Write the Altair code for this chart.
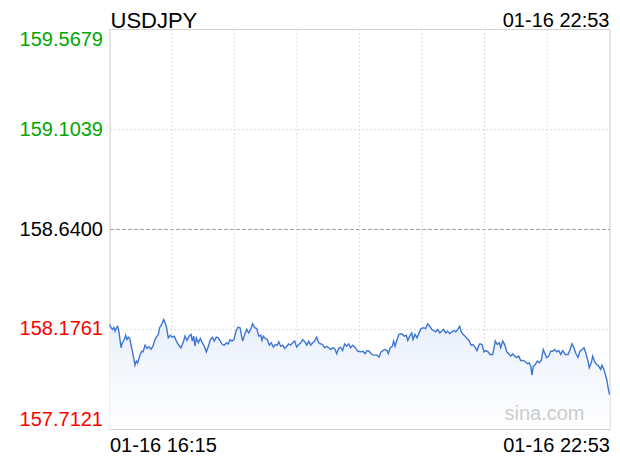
import altair as alt
import pandas as pd

# minutes after 16:15 (01-16) and USDJPY quotes
minutes = [0, 1.2, 2.3, 3.6, 4.4, 5.7, 6.5, 7.6, 9.2, 10.2, 11.8, 12.9, 13.9, 15.0, 16.1, 17.1, 18.7, 20.3, 21.4, 22.4,
           24.0, 25.6, 26.7, 28.3, 29.9, 31.4, 33.0, 34.6, 36.2, 37.8, 38.9, 39.9, 41.5, 43.1, 44.2, 45.2, 46.8, 48.4,
           50.0, 51.6, 53.2, 54.8, 56.9, 59.0, 60.1, 61.7, 63.3, 64.9, 65.9, 67.0, 68.1, 69.1, 70.7, 72.3, 73.9, 75.5,
           77.1, 78.7, 80.3, 81.9, 83.4, 85.0, 86.6, 88.2, 89.8, 91.4, 93.0, 94.6,
           95.9, 97.5, 99.1, 100.7, 102.3, 103.9, 104.9, 106.0, 107.6, 109.2, 110.8, 112.4, 114.0, 115.6, 117.2, 118.8,
           120.4, 121.4, 122.4, 124.0, 125.6, 127.2, 128.8, 130.4, 132.0, 133.6, 134.7, 136.3, 137.9, 139.5, 141.1,
           142.6, 144.2, 145.8, 147.4, 149.0, 150.6, 152.2, 153.8, 155.4, 157.0, 158.6, 160.2, 161.7, 163.3, 164.9,
           166.5, 168.1, 169.7, 171.3, 172.9, 174.5, 176.1, 177.7, 179.3, 180.9, 182.4, 184.0, 185.6, 187.2, 188.8,
           190.4, 192.0, 193.6,
           195.4, 197.6, 199.6, 201.8, 203.4, 205.0, 206.6, 208.7, 210.8, 212.9, 214.5, 216.1, 217.7, 219.3, 220.9,
           221.9, 223.5, 225.1, 226.2, 227.3, 228.9, 230.4, 232.6, 234.7, 236.3, 237.4, 239.0, 240.6, 241.6, 243.2,
           244.8, 246.4, 248.0, 250.1, 251.7, 253.3, 254.9, 256.5, 258.1, 259.7, 261.3, 262.9, 264.4, 266.0, 267.6,
           269.2, 270.8, 272.4, 274.0, 275.6, 277.2, 278.8, 279.8, 281.4, 283.0, 284.6, 286.2, 287.8, 289.3, 290.9,
           292.5, 294.1,
           294.9, 296.5, 298.1, 299.7, 301.3, 302.9, 305.0, 306.1, 307.1, 308.7, 310.3, 311.4, 313.0, 314.6, 316.2,
           317.8, 319.4, 321.0, 322.5, 324.1, 325.7, 327.3, 329.4, 331.0, 332.6, 334.2, 335.3, 336.3, 337.3, 338.9,
           340.5, 342.1, 343.7, 345.3, 346.9, 348.0, 349.6, 351.2, 352.8, 354.4, 356.0, 357.6, 359.2, 360.8, 362.8,
           365.0, 366.6, 368.2, 369.7, 371.3, 372.9, 374.5, 376.1, 377.7, 379.3, 380.9, 381.9, 383.5, 384.6, 386.2,
           387.8, 389.4, 391.0, 392.0, 393.6, 394.7, 395.8, 396.9, 398.0]

prices = [158.197, 158.182, 158.174, 158.183, 158.166, 158.182, 158.188, 158.160, 158.089, 158.112, 158.127, 158.147,
          158.127, 158.138, 158.132, 158.104, 158.058, 158.008, 158.027, 158.019, 158.050, 158.073, 158.070, 158.101,
          158.086, 158.094, 158.082, 158.096, 158.127, 158.143, 158.151, 158.182, 158.197, 158.220, 158.205, 158.189,
          158.135, 158.147, 158.138, 158.143, 158.120, 158.104, 158.089, 158.120, 158.143, 158.123, 158.143, 158.151,
          158.120, 158.143, 158.096, 158.135, 158.112, 158.132, 158.112, 158.096, 158.070, 158.096, 158.127, 158.138,
          158.120, 158.138, 158.135, 158.120, 158.104, 158.101, 158.112, 158.107,
          158.127, 158.120, 158.127, 158.166, 158.185, 158.182, 158.151, 158.120, 158.151, 158.174,
          158.158, 158.174, 158.200, 158.182, 158.178, 158.143, 158.147, 158.123, 158.143, 158.132,
          158.127, 158.101, 158.112, 158.092, 158.104, 158.101, 158.117, 158.096, 158.101, 158.086,
          158.096, 158.107, 158.101, 158.112, 158.120, 158.092, 158.104, 158.112, 158.127, 158.117,
          158.101, 158.120, 158.101, 158.112, 158.120, 158.138, 158.112, 158.107, 158.104, 158.089,
          158.096, 158.089, 158.081, 158.089, 158.084, 158.061, 158.086, 158.092, 158.076, 158.107,
          158.096, 158.107, 158.089, 158.101,
          158.092, 158.073, 158.070, 158.073, 158.061, 158.076, 158.073, 158.058, 158.055, 158.055,
          158.045, 158.070, 158.076, 158.081, 158.076, 158.061, 158.089, 158.096, 158.120, 158.096,
          158.127, 158.151, 158.154, 158.143, 158.147, 158.123, 158.143, 158.158, 158.127, 158.151,
          158.135, 158.158, 158.178, 158.182, 158.178, 158.200, 158.189, 158.174, 158.169, 158.163,
          158.174, 158.158, 158.166, 158.174, 158.158, 158.166, 158.154, 158.163, 158.169, 158.163,
          158.174, 158.189, 158.166, 158.151, 158.143, 158.132, 158.123, 158.101, 158.104, 158.092,
          158.076, 158.101,
          158.107, 158.104, 158.070, 158.076, 158.070, 158.058, 158.058, 158.089, 158.120, 158.104,
          158.112, 158.089, 158.120, 158.104, 158.070, 158.061, 158.050, 158.061, 158.050, 158.043,
          158.050, 158.030, 158.030, 158.024, 158.015, 158.019, 158.004, 157.962, 158.004, 158.011,
          158.027, 158.019, 158.030, 158.081, 158.058, 158.043, 158.050, 158.073, 158.073, 158.081,
          158.070, 158.076, 158.058, 158.076, 158.058, 158.058, 158.081, 158.107, 158.089, 158.061,
          158.045, 158.073, 158.081, 158.089, 158.061, 158.027, 157.996, 158.019, 158.050, 158.024,
          158.011, 158.004, 157.988, 158.008, 157.988, 157.965, 157.942, 157.903, 157.872]

y_ticks = [157.7121, 158.1761, 158.6400, 159.1039, 159.5679]
prev_close = 158.6400
x_domain = [0, 398]
x_tick_values = [0, 398]
x_tick_labels = ["01-16 16:15", "01-16 22:53"]
v_grid = [49.75, 99.5, 149.25, 199.0, 248.75, 298.5, 348.25]
symbol = "USDJPY"
stamp = "01-16 22:53"
watermark = "sina.com"

df = pd.DataFrame({"m": minutes, "p": prices})
FONT = "Liberation Sans"
W, H = 500, 400

x_scale = alt.Scale(domain=x_domain, nice=False, zero=False)
y_scale = alt.Scale(domain=[y_ticks[0], y_ticks[-1]], nice=False, zero=False)

label_expr = f"datum.value == {x_tick_values[0]} ? '{x_tick_labels[0]}' : '{x_tick_labels[1]}'"
x_axis = alt.Axis(values=x_tick_values, labelExpr=label_expr, title=None, ticks=False, domain=False,
                  grid=False, labelFont=FONT, labelFontSize=20, labelColor="#000000",
                  labelPadding=6, labelFlush=True)

mid_test = f"abs(datum.value - {prev_close}) < 0.0005"
y_axis = alt.Axis(
    values=y_ticks, format=".4f", title=None, ticks=False, domain=False,
    labelFont=FONT, labelFontSize=20, labelPadding=7, labelFlush=True,
    labelColor={"condition": [
        {"test": f"datum.value > {prev_close + 0.0005}", "value": "#00a800"},
        {"test": f"datum.value < {prev_close - 0.0005}", "value": "#ff0000"}],
        "value": "#000000"},
    grid=True,
    gridColor={"condition": {"test": mid_test, "value": "#a0a0a0"}, "value": "#dcdcdc"},
    gridDash={"condition": {"test": mid_test, "value": [4, 2]}, "value": [2, 2]},
)

vgrid = alt.Chart(pd.DataFrame({"m": v_grid})).mark_rule(
    color="#dcdcdc", strokeDash=[2, 2], strokeWidth=1
).encode(x=alt.X("m:Q", scale=x_scale, axis=x_axis))

area = alt.Chart(df).mark_area(
    color=alt.Gradient(gradient="linear",
                       stops=[alt.GradientStop(color="#e8effb", offset=0),
                              alt.GradientStop(color="#ffffff", offset=1)],
                       x1=0, x2=0, y1=0, y2=1),
).encode(
    x=alt.X("m:Q", scale=x_scale, axis=x_axis),
    y=alt.Y("p:Q", scale=y_scale, axis=y_axis),
    y2=alt.Y2Datum(y_ticks[0]),
)

line = alt.Chart(df).mark_line(color="#3f76d4", strokeWidth=1.4).encode(
    x=alt.X("m:Q", scale=x_scale, axis=x_axis),
    y=alt.Y("p:Q", scale=y_scale, axis=y_axis),
)

one = pd.DataFrame({"k": [0]})
title_txt = alt.Chart(one).mark_text(
    text=symbol, font=FONT, fontSize=22, align="left", baseline="alphabetic", color="#000000"
).encode(x=alt.value(1), y=alt.value(-1))
stamp_txt = alt.Chart(one).mark_text(
    text=stamp, font=FONT, fontSize=20, align="right", baseline="alphabetic", color="#000000"
).encode(x=alt.value(W), y=alt.value(-2.5))
wm_txt = alt.Chart(one).mark_text(
    text=watermark, font=FONT, fontSize=20, align="right", baseline="alphabetic", color="#cccccc"
).encode(x=alt.value(475), y=alt.value(391))

chart = alt.layer(vgrid, area, line, wm_txt, title_txt, stamp_txt).properties(
    width=W, height=H,
    padding={"left": 101.5, "top": 21, "right": 2, "bottom": 26},
    autosize=alt.AutoSizeParams(type="none"),
    background="#ffffff",
).configure_view(stroke="#cccccc", strokeWidth=1)

chart.save("out.html", embed_options={"renderer": "svg", "actions": False})
